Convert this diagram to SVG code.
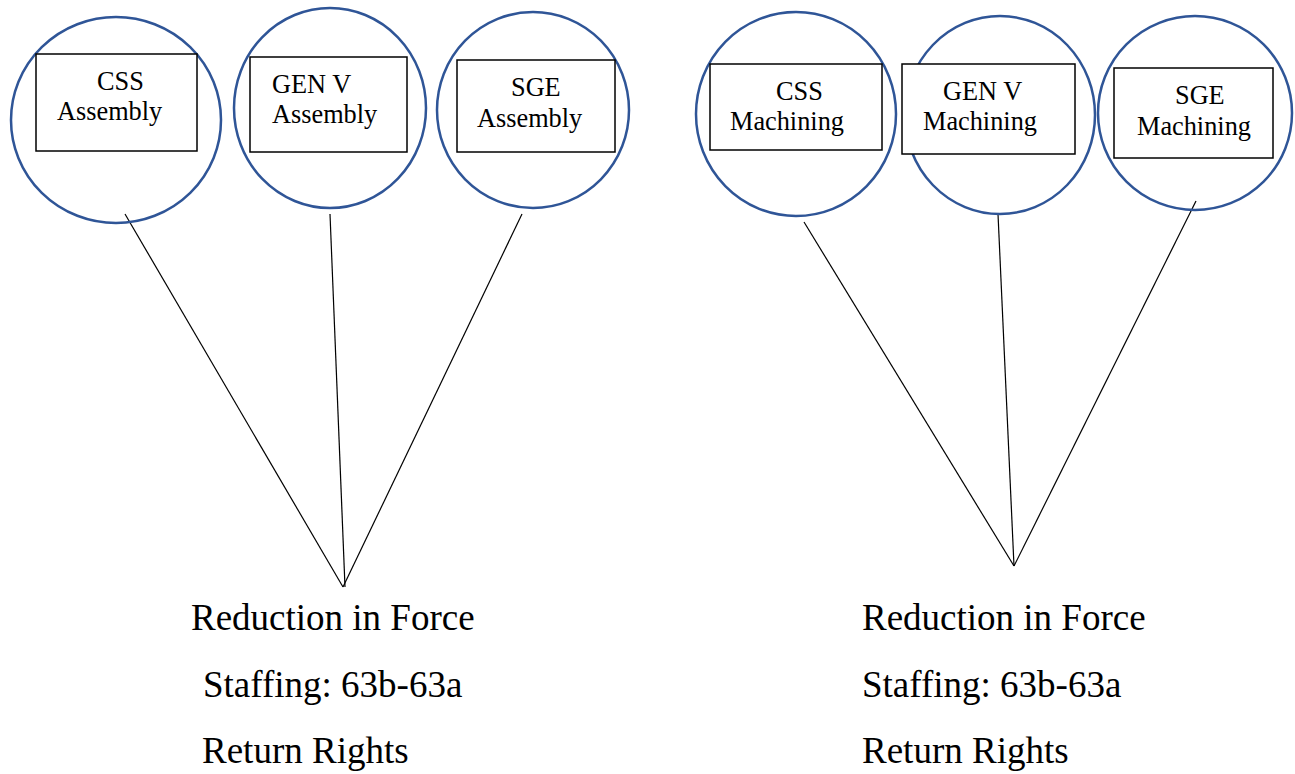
<svg xmlns="http://www.w3.org/2000/svg" width="1295" height="774" viewBox="0 0 1295 774">
  <style>
    .ring { fill: none; stroke: #2F5597; stroke-width: 2.5; }
    .box { fill: #ffffff; stroke: #000000; stroke-width: 1.5; }
    .lbl { font-family: "Liberation Serif", "Times New Roman", serif; font-size: 26.3px; fill: #000000; }
    .note { font-family: "Liberation Serif", "Times New Roman", serif; font-size: 37px; fill: #000000; }
    .link { stroke: #000000; stroke-width: 1.2; fill: none; }
  </style>
  <rect width="1295" height="774" fill="#ffffff"/>

  <!-- connectors: each unit feeds the shared outcome point below -->
  <g id="connectors">
    <line class="link" x1="125" y1="214" x2="343" y2="587"/>
    <line class="link" x1="330" y1="214" x2="345" y2="587"/>
    <line class="link" x1="522" y1="214" x2="343" y2="587"/>
    <line class="link" x1="804" y1="222" x2="1014" y2="566"/>
    <line class="link" x1="998" y1="214" x2="1014" y2="566"/>
    <line class="link" x1="1196" y1="201" x2="1014" y2="566"/>
  </g>

  <!-- assembly units -->
  <g id="css-assembly">
    <ellipse class="ring" cx="116" cy="120" rx="105" ry="103"/>
    <rect class="box" x="36" y="54" width="161" height="97"/>
    <text class="lbl" x="97" y="90">CSS</text>
    <text class="lbl" x="57" y="120">Assembly</text>
  </g>
  <g id="genv-assembly">
    <ellipse class="ring" cx="330" cy="108" rx="96" ry="100"/>
    <rect class="box" x="250" y="57" width="157" height="95"/>
    <text class="lbl" x="272" y="93">GEN V</text>
    <text class="lbl" x="272" y="123">Assembly</text>
  </g>
  <g id="sge-assembly">
    <ellipse class="ring" cx="533" cy="110" rx="96" ry="98"/>
    <rect class="box" x="457" y="60" width="158" height="92"/>
    <text class="lbl" x="511" y="96">SGE</text>
    <text class="lbl" x="477" y="127">Assembly</text>
  </g>

  <!-- machining units -->
  <g id="css-machining">
    <ellipse class="ring" cx="796" cy="114" rx="100" ry="102"/>
    <rect class="box" x="710" y="64" width="172" height="86"/>
    <text class="lbl" x="776" y="100">CSS</text>
    <text class="lbl" x="730" y="130">Machining</text>
  </g>
  <g id="genv-machining">
    <ellipse class="ring" cx="1000" cy="115" rx="95" ry="99"/>
    <rect class="box" x="902" y="64" width="173" height="90"/>
    <text class="lbl" x="943" y="100">GEN V</text>
    <text class="lbl" x="923" y="130">Machining</text>
  </g>
  <g id="sge-machining">
    <ellipse class="ring" cx="1195" cy="113" rx="97" ry="97"/>
    <rect class="box" x="1114" y="68" width="159" height="90"/>
    <text class="lbl" x="1175" y="104">SGE</text>
    <text class="lbl" x="1137" y="135">Machining</text>
  </g>

  <!-- outcome notes -->
  <g id="outcome-assembly">
    <text class="note" x="191" y="630">Reduction in Force</text>
    <text class="note" x="203" y="697">Staffing: 63b-63a</text>
    <text class="note" x="202" y="763">Return Rights</text>
  </g>
  <g id="outcome-machining">
    <text class="note" x="862" y="630">Reduction in Force</text>
    <text class="note" x="862" y="697">Staffing: 63b-63a</text>
    <text class="note" x="862" y="763">Return Rights</text>
  </g>
</svg>
